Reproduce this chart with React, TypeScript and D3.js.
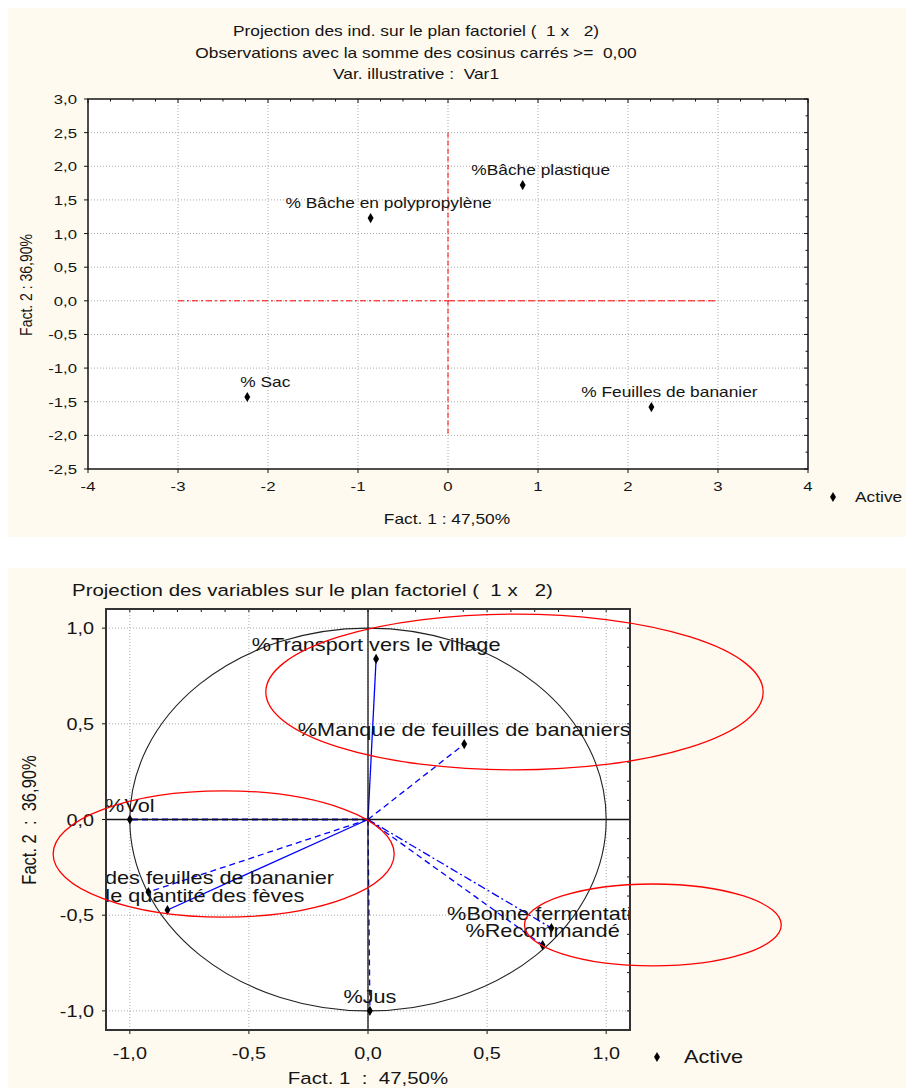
import React from 'react';
import * as d3 from 'd3';

// --- top chart: individuals
const indNames = ['%Bâche plastique', '% Bâche en polypropylène', '% Sac', '% Feuilles de bananier'];
const indX = [0.83, -0.86, -2.23, 2.26];
const indY = [1.72, 1.23, -1.43, -1.58];
const topXTicks = [-4, -3, -2, -1, 0, 1, 2, 3, 4];
const topYTicks = [3, 2.5, 2, 1.5, 1, 0.5, 0, -0.5, -1, -1.5, -2, -2.5];
const topTitle = [
  'Projection des ind. sur le plan factoriel (  1 x   2)',
  'Observations avec la somme des cosinus carrés >=  0,00',
  'Var. illustrative :  Var1',
];
const refH = [-3, 3];
const refV = [-2, 2.5];

// --- bottom chart: variables
const varNames = [
  '%Transport vers le village',
  '%Manque de feuilles de bananiers',
  '%Vol',
  '%Disponibilité des feuilles de bananier',
  '%Grande quantité des fèves',
  '%Bonne fermentation',
  '%Recommandé',
  '%Jus',
];
const varX = [0.034, 0.404, -1.0, -0.922, -0.842, 0.77, 0.733, 0.008];
const varY = [0.839, 0.394, 0.0, -0.379, -0.473, -0.567, -0.656, -1.0];
const varStyle = ['solid', 'dash', 'dash', 'dash', 'solid', 'dashdot', 'dash', 'dash'];
const botTicks = [-1, -0.5, 0, 0.5, 1];
// hand drawn red ellipses (centre x, centre y, radius x, radius y), in factor units
const ringCx = [0.615, -0.606, 1.196];
const ringCy = [0.666, -0.18, -0.551];
const ringRx = [1.044, 0.716, 0.539];
const ringRy = [0.407, 0.33, 0.214];

const SX = 1.24; // the picture is stretched horizontally
const FONT = '"Liberation Sans", Arial, sans-serif';
const INK = '#141414';
const comma = (v: number) => d3.format('.1f')(v).replace('.', ',').replace('\u2212', '-');

function T({ x, y, size, anchor = 'start', rotate = false, children }: any) {
  const tr = rotate
    ? `translate(${x},${y}) scale(${SX},1) rotate(-90)`
    : `translate(${x},${y}) scale(${SX},1)`;
  return (
    <text transform={tr} fontSize={size} textAnchor={anchor} fill={INK} fontFamily={FONT}
      xmlSpace="preserve" style={{ whiteSpace: 'pre' }}>
      {children}
    </text>
  );
}

const diamond = d3.symbol().type(d3.symbolDiamond).size(30)();

function TopChart() {
  const x = d3.scaleLinear().domain([-4, 4]).range([88, 808]);
  const y = d3.scaleLinear().domain([-2.5, 3]).range([469, 99]);
  const [x0, x1] = x.range();
  const [y0, y1] = [y(3), y(-2.5)];
  const minorX = d3.range(-4, 4.001, 0.25);
  const minorY = d3.range(-2.5, 3.001, 0.25);
  return (
    <g>
      <rect x={8} y={8} width={898} height={529} fill="#fefaf0" />
      {topTitle.map((t, i) => (
        <T key={i} x={416} y={36 + i * 21.5} size={14} anchor="middle">{t}</T>
      ))}
      <rect x={x0} y={y0} width={x1 - x0} height={y1 - y0} fill="#fff" />
      {topXTicks.slice(1, -1).map(v => (
        <line key={'gx' + v} x1={x(v)} x2={x(v)} y1={y0} y2={y1} stroke="#aaa" strokeDasharray="1,2" />
      ))}
      {topYTicks.slice(1, -1).map(v => (
        <line key={'gy' + v} x1={x0} x2={x1} y1={y(v)} y2={y(v)} stroke="#aaa" strokeDasharray="1,2" />
      ))}
      {minorX.map(v => (
        <line key={'mx' + v} x1={x(v)} x2={x(v)} y1={y0} y2={y0 + (Number.isInteger(v) ? 4 : 2.5)} stroke={INK} />
      ))}
      {minorY.map(v => (
        <line key={'my' + v} x1={x1} x2={x1 - (Number.isInteger(v * 2) ? 4 : 2.5)} y1={y(v)} y2={y(v)} stroke={INK} />
      ))}
      {topXTicks.map(v => (
        <g key={'tx' + v}>
          <line x1={x(v)} x2={x(v)} y1={y1} y2={y1 + 4} stroke={INK} />
          <T x={x(v)} y={491} size={13.5} anchor="middle">{String(v)}</T>
        </g>
      ))}
      {topYTicks.map(v => (
        <g key={'ty' + v}>
          <line x1={x0 - 4} x2={x0} y1={y(v)} y2={y(v)} stroke={INK} />
          <T x={77} y={y(v) + 5} size={13.5} anchor="end">{comma(v)}</T>
        </g>
      ))}
      {/* reference lines */}
      <line x1={x(0)} x2={x(0)} y1={y(refV[1])} y2={y(refV[0])} stroke="#f00" strokeDasharray="5,3" />
      <line x1={x(refH[0])} x2={x(0)} y1={y(0)} y2={y(0)} stroke="#f00" strokeDasharray="6,3,2,3" />
      <line x1={x(0)} x2={x(refH[1])} y1={y(0)} y2={y(0)} stroke="#f00" strokeDasharray="7,3" />
      <rect x={x0} y={y0} width={x1 - x0} height={y1 - y0} fill="none" stroke={INK} strokeWidth={1.5} />
      {indNames.map((n, i) => (
        <g key={n}>
          <path d={diamond} transform={`translate(${x(indX[i])},${y(indY[i])})`} fill="#000" />
          <T x={x(indX[i]) + 18} y={y(indY[i]) - 10} size={14} anchor="middle">{n}</T>
        </g>
      ))}
      <path d={diamond} transform="translate(833,497)" fill="#000" />
      <T x={855} y={502} size={14}>Active</T>
      <T x={447} y={524} size={14} anchor="middle">Fact. 1 : 47,50%</T>
      <T x={32} y={285} size={14} anchor="middle" rotate>Fact. 2 : 36,90%</T>
    </g>
  );
}

function BottomChart() {
  const x = d3.scaleLinear().domain([-1.1, 1.1]).range([106, 630]);
  const y = d3.scaleLinear().domain([-1.1, 1.1]).range([1030, 609]);
  const [x0, x1] = x.range();
  const [y0, y1] = [y(1.1), y(-1.1)];
  const minor = d3.range(-1.1, 1.1001, 0.1);
  const dash: any = { solid: null, dash: '6,4', dashdot: '8,3,2,3' };
  return (
    <g>
      <rect x={8} y={568} width={898} height={520} fill="#fefaf0" />
      <T x={72} y={596} size={16.5}>Projection des variables sur le plan factoriel (  1 x   2)</T>
      <defs>
        <clipPath id="plotB">
          <rect x={x0} y={y0} width={x1 - x0} height={y1 - y0} />
        </clipPath>
      </defs>
      <rect x={x0} y={y0} width={x1 - x0} height={y1 - y0} fill="#fff" />
      {botTicks.map(v => (
        <g key={'g' + v}>
          <line x1={x(v)} x2={x(v)} y1={y0} y2={y1} stroke="#aaa" strokeDasharray="1,2" />
          <line x1={x0} x2={x1} y1={y(v)} y2={y(v)} stroke="#aaa" strokeDasharray="1,2" />
        </g>
      ))}
      {minor.map((v, i) => (
        <g key={'m' + i}>
          <line x1={x(v)} x2={x(v)} y1={y0} y2={y0 + 3} stroke={INK} />
          <line x1={x1} x2={x1 - 3} y1={y(v)} y2={y(v)} stroke={INK} />
        </g>
      ))}
      {botTicks.map(v => (
        <g key={'t' + v}>
          <line x1={x(v)} x2={x(v)} y1={y1} y2={y1 + 4} stroke={INK} />
          <line x1={x0 - 4} x2={x0} y1={y(v)} y2={y(v)} stroke={INK} />
          <T x={x(v)} y={1059} size={16} anchor="middle">{comma(v)}</T>
          <T x={94} y={y(v) + 6} size={16} anchor="end">{comma(v)}</T>
        </g>
      ))}
      <ellipse cx={x(0)} cy={y(0)} rx={x(1) - x(0)} ry={y(0) - y(1)} fill="none" stroke="#222" strokeWidth={1.1} />
      {varNames.map((n, i) => (
        <line key={'v' + i} x1={x(0)} y1={y(0)} x2={x(varX[i])} y2={y(varY[i])}
          stroke="#0000ff" strokeWidth={i === 2 ? 2.2 : 1.3} strokeDasharray={dash[varStyle[i]]} />
      ))}
      <line x1={x0} x2={x1} y1={y(0)} y2={y(0)} stroke={INK} strokeWidth={1.3} />
      <line x1={x(0)} x2={x(0)} y1={y0} y2={y1} stroke={INK} strokeWidth={1.3} />
      <g clipPath="url(#plotB)">
        {varNames.map((n, i) => (
          <g key={'p' + i}>
            <path d={diamond} transform={`translate(${x(varX[i])},${y(varY[i])})`} fill="#000" />
            <T x={x(varX[i])} y={y(varY[i]) - 8} size={17.5} anchor="middle">{n}</T>
          </g>
        ))}
      </g>
      <rect x={x0} y={y0} width={x1 - x0} height={y1 - y0} fill="none" stroke="#333" strokeWidth={2} />
      {ringCx.map((c, i) => (
        <ellipse key={'r' + i} cx={x(c)} cy={y(ringCy[i])} rx={x(ringRx[i]) - x(0)} ry={y(0) - y(ringRy[i])}
          fill="none" stroke="#f00" strokeWidth={1.3} />
      ))}
      <path d={diamond} transform="translate(657,1057)" fill="#000" />
      <T x={684} y={1063} size={17.5}>Active</T>
      <T x={368} y={1084} size={16.5} anchor="middle">Fact. 1  :  47,50%</T>
      <T x={36} y={820} size={16.5} anchor="middle" rotate>Fact. 2  :  36,90%</T>
    </g>
  );
}

export default function App() {
  return (
    <svg width={906} height={1088} style={{ position: 'absolute', left: 0, top: 0, background: '#fff' }}>
      <TopChart />
      <BottomChart />
    </svg>
  );
}
